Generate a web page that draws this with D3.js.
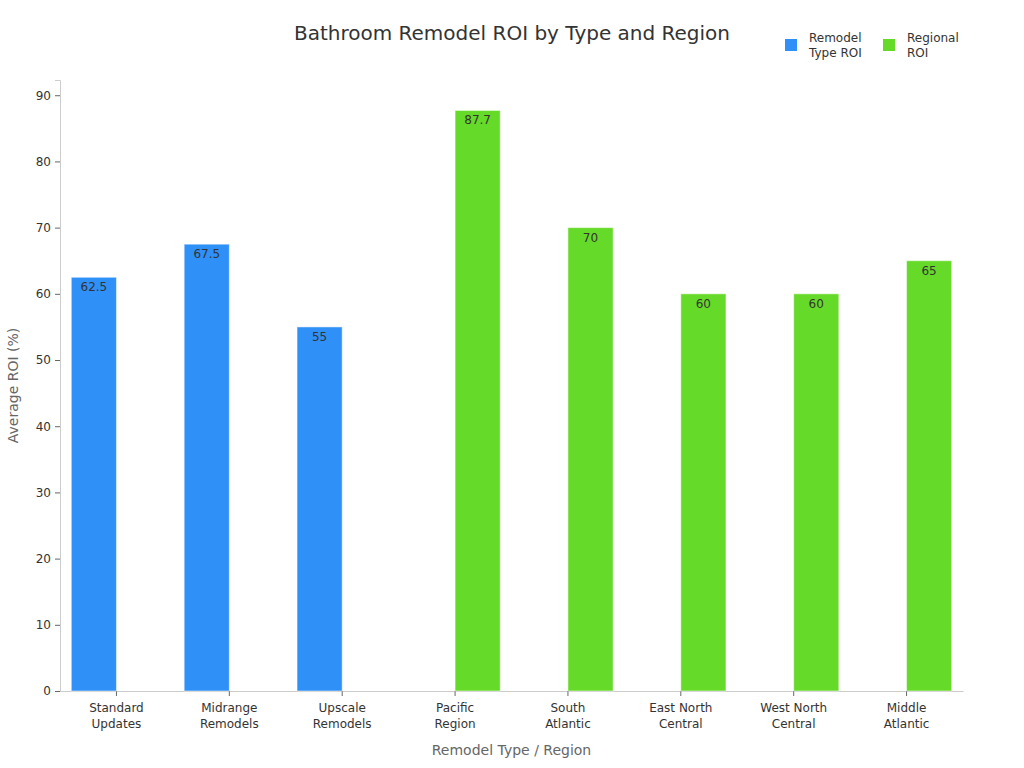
<!DOCTYPE html>
<html>
<head>
<meta charset="utf-8">
<script src="https://cdn.jsdelivr.net/npm/d3@7"></script>
<style>
  body { margin: 0; background: #fff; font-family: "DejaVu Sans", sans-serif; }
</style>
</head>
<body>
<div id="chart"></div>
<script>
// Chart data
const categories = ["Standard Updates", "Midrange Remodels", "Upscale Remodels", "Pacific Region",
    "South Atlantic", "East North Central", "West North Central", "Middle Atlantic"];
const categoryLines = [["Standard", "Updates"], ["Midrange", "Remodels"], ["Upscale", "Remodels"],
    ["Pacific", "Region"], ["South", "Atlantic"], ["East North", "Central"], ["West North", "Central"],
    ["Middle", "Atlantic"]];
const seriesNames = ["Remodel Type ROI", "Regional ROI"];
const legendLines = [["Remodel", "Type ROI"], ["Regional", "ROI"]];
const remodelTypeROI = [62.5, 67.5, 55, null, null, null, null, null];
const regionalROI = [null, null, null, 87.7, 70, 60, 60, 65];
const yTicks = [0, 10, 20, 30, 40, 50, 60, 70, 80, 90];

const colors = ["#2f91f7", "#66da28"];
const width = 1024, height = 768;
const margin = { top: 80, right: 61, bottom: 77, left: 60 };

const svg = d3.select("#chart").append("svg")
    .attr("width", width)
    .attr("height", height);

const x = d3.scaleBand()
    .domain(categories)
    .range([margin.left, width - margin.right]);

const xInner = d3.scaleBand()
    .domain(seriesNames)
    .range([0, x.bandwidth()])
    .paddingOuter(0.25);

const y = d3.scaleLinear()
    .domain([0, 92.3])
    .range([height - margin.bottom, margin.top]);

// Axes
const yAxis = svg.append("g")
    .attr("transform", `translate(${margin.left},0)`)
    .call(d3.axisLeft(y).tickValues(yTicks).tickSize(5).tickPadding(4));
yAxis.select(".domain").attr("stroke", "#ccc");
yAxis.selectAll(".tick line").attr("stroke", "#666");
yAxis.selectAll(".tick text").attr("fill", "#333").attr("font-size", 12)
    .attr("font-family", "DejaVu Sans");

const xAxis = svg.append("g")
    .attr("transform", `translate(0,${height - margin.bottom})`)
    .call(d3.axisBottom(x).tickSize(5).tickSizeOuter(0).tickFormat(""));
xAxis.select(".domain").attr("stroke", "#ccc");
xAxis.selectAll(".tick line").attr("stroke", "#666");

// Two-line category labels
xAxis.selectAll(".tick").each(function(d, i) {
    const t = d3.select(this).append("text")
        .attr("fill", "#333")
        .attr("font-size", 12)
        .attr("font-family", "DejaVu Sans")
        .attr("text-anchor", "middle");
    categoryLines[i].forEach((line, j) => {
        t.append("tspan").attr("x", 0).attr("y", 21 + j * 16).text(line);
    });
});

// Bars
const series = [remodelTypeROI, regionalROI];
series.forEach((values, s) => {
    const data = categories.map((c, i) => ({ cat: c, value: values[i] })).filter(d => d.value != null);
    const g = svg.append("g");
    g.selectAll("rect")
        .data(data)
        .enter()
        .append("rect")
        .attr("x", d => x(d.cat) + xInner(seriesNames[s]))
        .attr("y", d => y(d.value))
        .attr("width", xInner.bandwidth())
        .attr("height", d => y(0) - y(d.value))
        .attr("fill", colors[s])
        .attr("stroke", "rgba(255,255,255,0.5)")
        .attr("stroke-width", 1);

    g.selectAll("text")
        .data(data)
        .enter()
        .append("text")
        .attr("x", d => x(d.cat) + xInner(seriesNames[s]) + xInner.bandwidth() / 2)
        .attr("y", d => y(d.value) + 14)
        .attr("text-anchor", "middle")
        .attr("font-size", 12)
        .attr("font-family", "DejaVu Sans")
        .attr("fill", "#333")
        .text(d => d.value);
});

// Title
svg.append("text")
    .attr("x", 512)
    .attr("y", 40)
    .attr("text-anchor", "middle")
    .attr("font-size", 20)
    .attr("fill", "#333")
    .text("Bathroom Remodel ROI by Type and Region");

// Axis titles
svg.append("text")
    .attr("x", (margin.left + width - margin.right) / 2)
    .attr("y", 755)
    .attr("text-anchor", "middle")
    .attr("font-size", 14)
    .attr("fill", "#666")
    .text("Remodel Type / Region");

svg.append("text")
    .attr("transform", `translate(18,${(margin.top + height - margin.bottom) / 2}) rotate(-90)`)
    .attr("text-anchor", "middle")
    .attr("font-size", 14)
    .attr("fill", "#666")
    .text("Average ROI (%)");

// Legend
const legendX = [785, 883];
seriesNames.forEach((name, i) => {
    const lg = svg.append("g").attr("transform", `translate(${legendX[i]},0)`);
    lg.append("rect")
        .attr("x", 0).attr("y", 39)
        .attr("width", 12).attr("height", 12)
        .attr("fill", colors[i]);
    const t = lg.append("text")
        .attr("font-size", 12)
        .attr("fill", "#333");
    legendLines[i].forEach((line, j) => {
        t.append("tspan").attr("x", 24).attr("y", 42 + j * 15).text(line);
    });
});
</script>
</body>
</html>
